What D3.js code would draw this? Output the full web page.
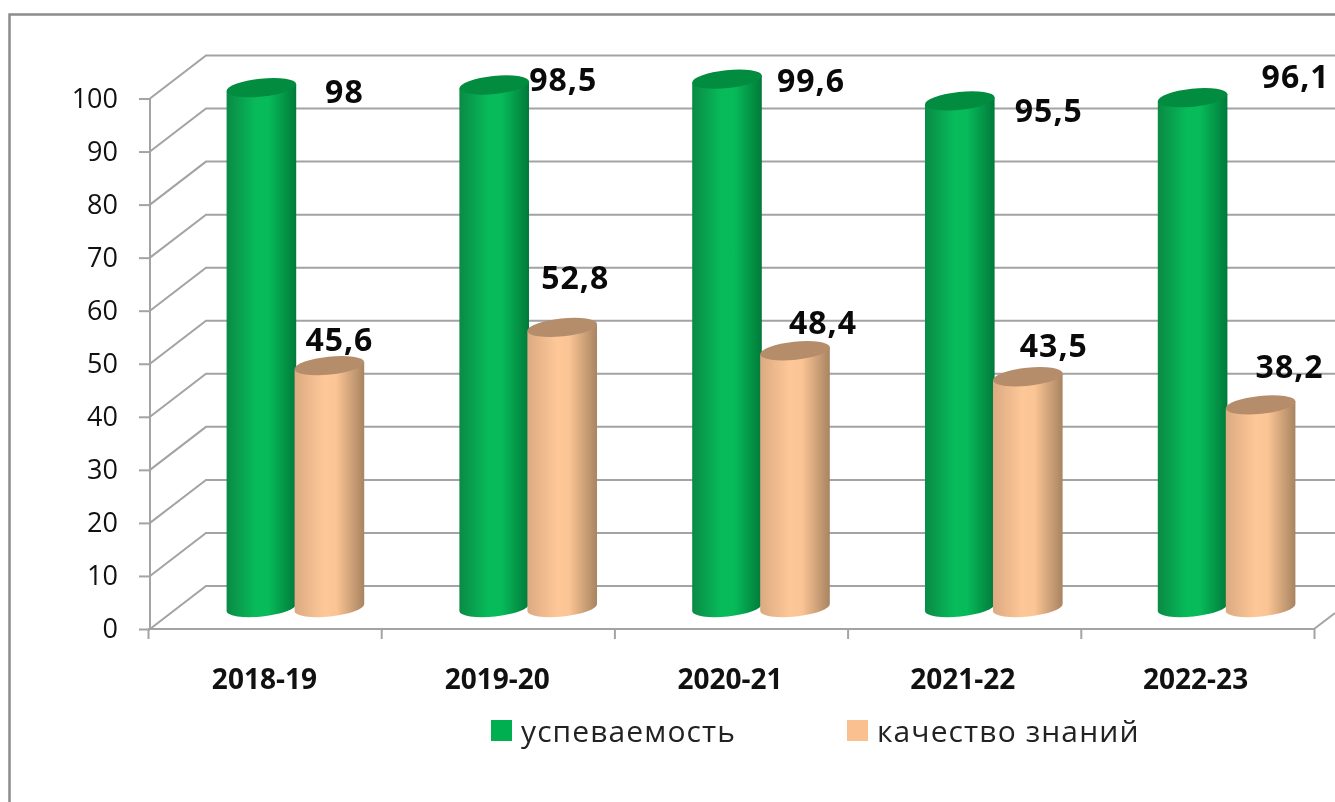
<!DOCTYPE html>
<html>
<head>
<meta charset="utf-8">
<script src="https://cdn.jsdelivr.net/npm/d3@7"></script>
<style>
  html, body { margin: 0; background: #fff; overflow: hidden; }
  svg { display: block; filter: blur(0.5px); }
  text { font-family: "Open Sans", sans-serif; }
</style>
</head>
<body>
<svg width="1335" height="802"></svg>
<script>
const categories = ['2018-19', '2019-20', '2020-21', '2021-22', '2022-23'];
const seriesNames = ['успеваемость', 'качество знаний'];
const uspevaemost = [98, 98.5, 99.6, 95.5, 96.1];
const kachestvo = [45.6, 52.8, 48.4, 43.5, 38.2];
const yTicks = [0, 10, 20, 30, 40, 50, 60, 70, 80, 90, 100];

// data labels were dragged by hand in the original, so they get their own nudges
const labelNudgeA = [[83, 15], [69, 6], [84, 13], [89, 21], [103, -10]];
const labelNudgeB = [[10, -15], [13, -38], [28, -17], [26, -20], [29, -27]];

const margin = { left: 150, right: 1314, top: 98.5, bottom: 629 };
const depth = { x: 56, y: 43 };
const grid = '#a3a3a3';
const colors = [
  { legend: '#00b050', top: '#018c40', stops: ['#0a8a45', '#07bb5a', '#07bb5a', '#017a3a'] },
  { legend: '#fac090', top: '#b58d6b', stops: ['#dcaa82', '#fdc797', '#fbc494', '#a88461'] }
];

const svg = d3.select('svg');

const defs = svg.append('defs');
colors.forEach((c, i) => {
  const g = defs.append('linearGradient').attr('id', `cyl${i}`);
  [0, 0.42, 0.6, 1].forEach((o, j) => {
    g.append('stop').attr('offset', o).attr('stop-color', c.stops[j]);
  });
});

// outer frame, runs off the picture on the right and the bottom
svg.append('path')
  .attr('d', 'M9.5,802V14.5H1335')
  .attr('fill', 'none')
  .attr('stroke', '#8c8c8c')
  .attr('stroke-width', 2.5);

// ---- Scales
const mapY = d3.scaleLinear().domain([0, 100]).range([margin.bottom, margin.top]);
const mapX = d3.scaleBand().domain(categories).range([margin.left, margin.right]);
const mapEdge = d3.scaleLinear().domain([0, 5]).range([margin.left - 2, margin.right]);
const mapSeries = d3.scaleBand().domain([0, 1]).range([-68, 68]);

// ---- Walls
const walls = svg.append('g')
  .attr('fill', 'none')
  .attr('stroke', grid)
  .attr('stroke-width', 2);

yTicks.forEach(t => {
  const y = mapY(t);
  walls.append('path')
    .attr('d', `M${margin.left},${y}L${margin.left + depth.x},${y - depth.y}H1335`);
});
walls.append('path')
  .attr('d', `M${margin.right},${margin.bottom}L1335,${margin.bottom - 16}`);

// ---- Axes
const yAxis = svg.append('g')
  .attr('transform', `translate(${margin.left},0)`)
  .call(d3.axisLeft(mapY).tickValues(yTicks).tickSize(11).tickPadding(21));
yAxis.select('.domain').attr('d', `M0,${margin.top}V${margin.bottom}`).attr('stroke', grid).attr('stroke-width', 2);
yAxis.selectAll('line').attr('stroke', grid).attr('stroke-width', 2);
yAxis.selectAll('text')
  .attr('fill', '#111')
  .style('font-size', '27px');

const xEdges = svg.append('g')
  .attr('transform', `translate(0,${margin.bottom})`)
  .call(d3.axisBottom(mapEdge).ticks(5).tickSize(10).tickFormat(''));
xEdges.select('.domain').attr('d', `M${margin.left - 2},0H${margin.right}`).attr('stroke', grid).attr('stroke-width', 2);
xEdges.selectAll('line').attr('stroke', grid).attr('stroke-width', 2);

const xAxis = svg.append('g')
  .attr('transform', `translate(-2,${margin.bottom})`)
  .call(d3.axisBottom(mapX).tickSize(0).tickPadding(40));
xAxis.select('.domain').remove();
xAxis.selectAll('text')
  .attr('fill', '#111')
  .style('font-size', '28px')
  .style('font-weight', 700);

// ---- Cylinders
const rx = 35, ry = 9, tilt = 6;
const dipX = rx * Math.cos(tilt * Math.PI / 180);
const dipY = rx * Math.sin(tilt * Math.PI / 180);
const barX = c => mapX(c) + mapX.bandwidth() / 2 + depth.x / 2 + 1;
const midY = v => mapY(v) - depth.y / 2;

[uspevaemost, kachestvo].forEach((values, s) => {
  const bars = svg.append('g');
  values.forEach((v, i) => {
    const cx = barX(categories[i]) + mapSeries(s) + mapSeries.bandwidth() / 2;
    const yTop = midY(v), yBase = midY(0);
    bars.append('path')
      .attr('d', `M${cx - dipX},${yTop + dipY}L${cx - dipX},${yBase + dipY}` +
        `A${rx},${ry} ${-tilt} 0 0 ${cx + dipX},${yBase - dipY}L${cx + dipX},${yTop - dipY}Z`)
      .attr('fill', `url(#cyl${s})`);
    bars.append('ellipse')
      .attr('rx', rx).attr('ry', ry)
      .attr('transform', `translate(${cx},${yTop}) rotate(${-tilt})`)
      .attr('fill', colors[s].top);
  });
});

// ---- Data labels
const comma = v => String(v).replace('.', ',');
[[uspevaemost, labelNudgeA], [kachestvo, labelNudgeB]].forEach(([values, nudge], s) => {
  svg.append('g').selectAll('text').data(values).join('text')
    .attr('x', (v, i) => barX(categories[i]) + mapSeries(s) + mapSeries.bandwidth() / 2 + nudge[i][0])
    .attr('y', (v, i) => midY(v) + nudge[i][1])
    .attr('text-anchor', 'middle')
    .attr('fill', '#0a0a0a')
    .style('font-size', '32px')
    .style('font-weight', 700)
    .style('letter-spacing', '1px')
    .text(comma);
});

// ---- Legend
const legendX = [491, 847];
const legend = svg.append('g').selectAll('g').data(seriesNames).join('g')
  .attr('transform', (d, i) => `translate(${legendX[i]},720)`);
legend.append('rect')
  .attr('width', 21).attr('height', 21)
  .attr('fill', (d, i) => colors[i].legend);
legend.append('text')
  .attr('x', 30).attr('y', 22)
  .attr('fill', '#222')
  .style('font-size', '30px')
  .style('letter-spacing', '1.1px')
  .text(d => d);
</script>
</body>
</html>
